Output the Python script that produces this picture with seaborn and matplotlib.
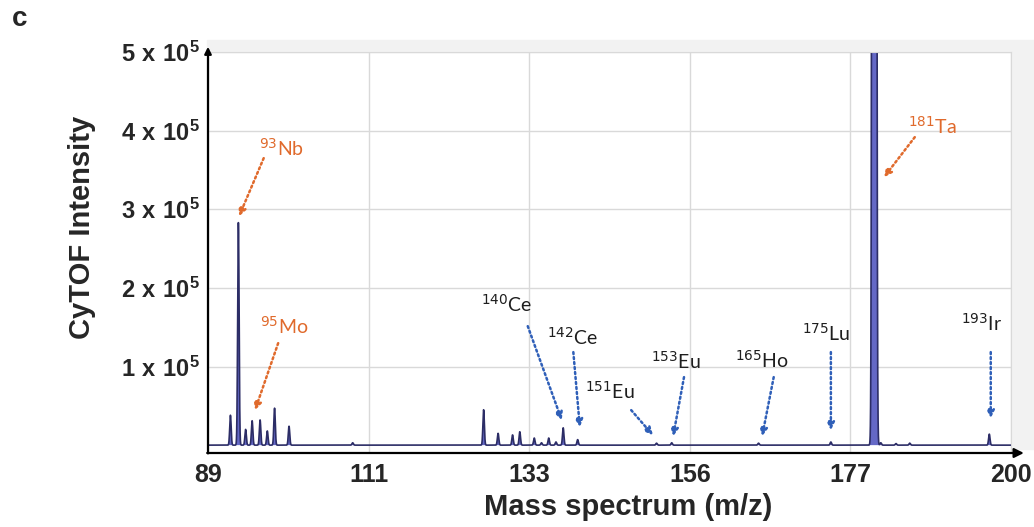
import numpy as np
import pandas as pd
import matplotlib
matplotlib.use('Agg')
import matplotlib.pyplot as plt
from matplotlib.patches import Rectangle
import seaborn as sns

# peak centres (m/z) and heights
peak_mz = [92.1, 93.2, 94.2, 95.1, 96.2, 97.2, 98.2, 100.2, 109.0,
           127.1, 129.1, 131.1, 132.1, 134.1, 135.1, 136.1, 137.1, 138.1, 140.1,
           151.0, 153.1, 165.1, 175.1, 181.1, 182.0, 184.1, 186.0, 197.0]
peak_height = [38000, 283000, 20000, 31000, 32000, 18000, 47000, 24000, 3000,
               45000, 15000, 13000, 17000, 9000, 3000, 9000, 4000, 22000, 7000,
               2500, 3000, 2500, 4000, 16000000, 3000, 2000, 2500, 14000]
peak_sigma = [0.1] * 23 + [0.15] + [0.1] * 4

x_ticks = [89, 111, 133, 156, 177, 200]
y_tick_labels = [r'$\mathbf{%d\ x\ 10^{5}}$' % k for k in range(1, 6)]

# isotope labels: text, colour group, text position, arrow start, arrow tip
labels = ['93Nb', '95Mo', '181Ta', '140Ce', '142Ce', '151Eu', '153Eu', '165Ho', '175Lu', '193Ir']
label_group = ['o', 'o', 'o', 'b', 'b', 'b', 'b', 'b', 'b', 'b']
label_xy = [(99.1, 377700), (99.6, 151300), (189.2, 405700), (130.3, 179300), (139.4, 137400),
            (144.6, 68700), (153.6, 106800), (165.6, 108100), (174.4, 142400), (196.0, 155200)]
arrow_from = [(96.7, 365000), (98.7, 129700), (186.7, 391700), (133.2, 151300), (139.5, 118300),
              (147.5, 44500), (154.8, 86500), (167.2, 86500), (175.1, 118300), (197.2, 118300)]
arrow_to = [(93.3, 291200), (95.5, 44500), (182.45, 340800), (137.9, 31800), (140.4, 22900),
            (150.5, 12700), (153.3, 11400), (165.6, 11400), (175.1, 19100), (197.2, 34300)]

orange = '#e06a2c'
blue = '#2f5fb8'

mz = np.arange(89, 200.001, 0.01)
inten = np.zeros_like(mz)
for c, h, s in zip(peak_mz, peak_height, peak_sigma):
    inten += h * np.exp(-0.5 * ((mz - c) / s) ** 2)
df = pd.DataFrame({'mz': mz, 'intensity': inten})

sns.set_style('white')
plt.rcParams['mathtext.fontset'] = 'custom'
plt.rcParams['mathtext.rm'] = 'Lato'
plt.rcParams['mathtext.bf'] = 'Liberation Sans:bold'

fig = plt.figure(figsize=(10.34, 5.27), dpi=100)
fig.patches.append(Rectangle((207 / 1034, 1 - 449 / 527), 827 / 1034, 409 / 527,
                             transform=fig.transFigure, color='#f2f2f2', zorder=-1))
ax = fig.add_axes([208 / 1034, 1 - 453 / 527, 803 / 1034, 401 / 527])
ax.set_facecolor('white')

ax.fill_between(df['mz'], 0, df['intensity'], color='#6468c6', lw=0)
sns.lineplot(data=df, x='mz', y='intensity', ax=ax, color='#2c2d66', lw=1.2)

ax.set_xlim(89, 200)
ax.set_ylim(-10000, 500000)
ax.set_xticks(np.linspace(89, 200, 6))
ax.set_xticklabels([str(t) for t in x_ticks], fontfamily='Liberation Sans',
                   fontweight='bold', fontsize=18)
ax.set_yticks([100000, 200000, 300000, 400000, 500000])
ax.set_yticklabels(y_tick_labels, fontsize=17)
ax.tick_params(axis='both', length=0)
ax.tick_params(axis='x', pad=7)
ax.tick_params(axis='y', pad=6)
ax.grid(True, color='#d9d9d9', lw=1)
ax.set_axisbelow(True)
ax.set_xlabel('')
ax.set_ylabel('')

for side in ['left', 'bottom']:
    ax.spines[side].set_visible(False)
for side in ['top', 'right']:
    ax.spines[side].set_color('#d9d9d9')

# axis lines with arrow heads
ax.annotate('', xy=(1.016, 0), xytext=(-0.001, 0), xycoords='axes fraction',
            arrowprops=dict(arrowstyle='-|>', color='black', lw=1.6, mutation_scale=14, shrinkA=0, shrinkB=0))
ax.annotate('', xy=(0, 1.013), xytext=(0, -0.001), xycoords='axes fraction',
            arrowprops=dict(arrowstyle='-|>', color='black', lw=1.6, mutation_scale=10, shrinkA=0, shrinkB=0))

for lab, g, txy, a0, a1 in zip(labels, label_group, label_xy, arrow_from, arrow_to):
    num = ''.join(ch for ch in lab if ch.isdigit())
    sym = lab[len(num):]
    col = orange if g == 'o' else blue
    tcol = orange if g == 'o' else '#1e1e1e'
    ax.text(txy[0], txy[1], r'$^{\mathsf{%s}}$%s' % (num, sym), color=tcol, fontsize=14,
            fontfamily='Lato', ha='center', va='center')
    ax.annotate('', xy=a1, xytext=a0,
                arrowprops=dict(arrowstyle='-|>', color=col, lw=1.8, linestyle=(0, (0.8, 1.2)),
                                mutation_scale=11, shrinkA=0, shrinkB=0))

fig.text(82 / 1034, 1 - 227 / 527, 'CyTOF Intensity', rotation=90, ha='center', va='center',
         fontfamily='Liberation Sans', fontweight='bold', fontsize=21)
fig.text(628 / 1034, 1 - 507 / 527, 'Mass spectrum (m/z)', ha='center', va='center',
         fontfamily='Liberation Sans', fontweight='bold', fontsize=21)
fig.text(20 / 1034, 1 - 19 / 527, 'c', ha='center', va='center',
         fontfamily='Liberation Sans', fontweight='bold', fontsize=20)

fig.savefig('out.png', dpi=100)
